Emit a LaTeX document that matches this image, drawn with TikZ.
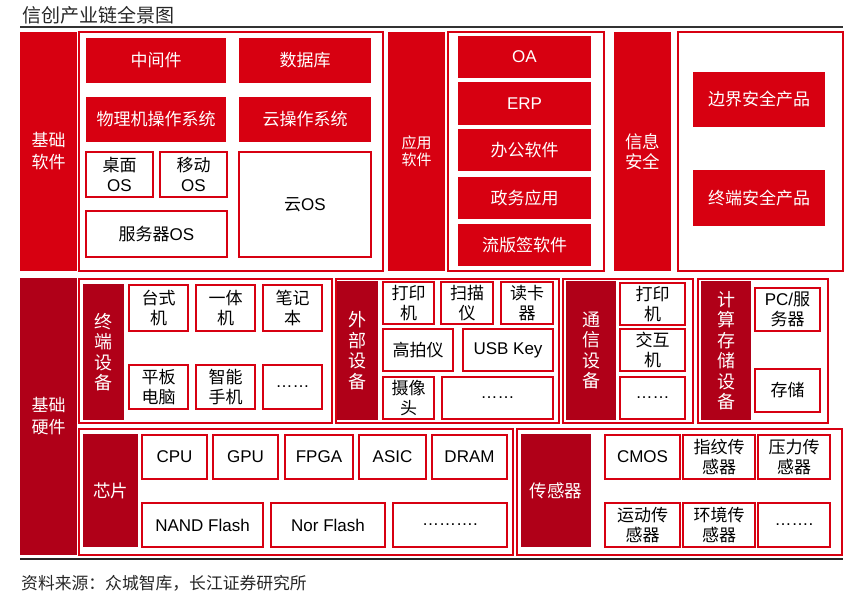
\documentclass[tikz,border=0pt]{standalone}
\usepackage{fontspec}
\setmainfont{Noto Sans CJK SC}
\newfontfamily\arialfont{Liberation Sans}
\newcommand{\ltn}[1]{{\arialfont #1}}
\definecolor{swred}{RGB}{215,0,17}
\definecolor{hwred}{RGB}{176,0,24}
\tikzset{
  swlabel/.style={fill=swred},
  hwlabel/.style={fill=hwred},
  redcell/.style={fill=swred},
  whitecell/.style={draw=swred, line width=1.6pt, fill=white},
  group/.style={draw=swred, line width=1.4pt},
  wtext/.style={text=white, align=center, inner sep=0pt, font=\fontsize{17}{20}\selectfont},
  ktext/.style={text=black, align=center, inner sep=0pt, font=\fontsize{17}{20}\selectfont},
  vtext/.style={wtext, font=\fontsize{18}{20.5}\selectfont},
}
\begin{document}
\begin{tikzpicture}[x=1pt,y=-1pt]
    \useasboundingbox (0,0) rectangle (867,599);

    % title, rules and source
    \node[anchor=west, inner sep=0pt, font=\fontsize{19}{22}\selectfont, text=black!85] (title) at (22,15) {信创产业链全景图};
    \draw[line width=2pt, black!80] (20,27) -- (843,27);
    \draw[line width=2pt, black!85] (20,559) -- (843,559);
    \node[anchor=west, inner sep=0pt, font=\fontsize{16.8}{19}\selectfont, text=black!85] (source) at (21,583) {资料来源：众城智库，长江证券研究所};

    % basic software
    \fill[swlabel] (20,32) rectangle (77,271) node[midway, wtext, font=\fontsize{17}{22}\selectfont] (jcrj) {基础\\软件};
    \draw[group] (79,32) rectangle (383,271);
    \fill[redcell] (86,38) rectangle (226,83) node[midway, wtext] (zjj) {中间件};
    \fill[redcell] (239,38) rectangle (371,83) node[midway, wtext] (sjk) {数据库};
    \fill[redcell] (86,97) rectangle (226,142) node[midway, wtext] (wljos) {物理机操作系统};
    \fill[redcell] (239,97) rectangle (371,142) node[midway, wtext] (yczxt) {云操作系统};
    \draw[whitecell] (86,152) rectangle (153,197) node[midway, ktext] (zmos) {桌面\\\ltn{OS}};
    \draw[whitecell] (160,152) rectangle (227,197) node[midway, ktext] (ydos) {移动\\\ltn{OS}};
    \draw[whitecell] (86,211) rectangle (227,257) node[midway, ktext] (fwqos) {服务器\ltn{OS}};
    \draw[whitecell] (239,152) rectangle (371,257) node[midway, ktext] (yos) {云\ltn{OS}};

    % application software
    \fill[swlabel] (388,32) rectangle (445,271) node[midway, wtext, font=\fontsize{15}{17}\selectfont] (yyrj) {应用\\软件};
    \draw[group] (448,32) rectangle (604,271);
    \fill[redcell] (458,36) rectangle (591,78) node[midway, wtext] (oa) {\ltn{OA}};
    \fill[redcell] (458,82) rectangle (591,125) node[midway, wtext] (erp) {\ltn{ERP}};
    \fill[redcell] (458,129) rectangle (591,171) node[midway, wtext] (bgrj) {办公软件};
    \fill[redcell] (458,177) rectangle (591,219) node[midway, wtext] (zwyy) {政务应用};
    \fill[redcell] (458,224) rectangle (591,266) node[midway, wtext] (lbqrj) {流版签软件};

    % information security
    \fill[swlabel] (614,32) rectangle (671,271) node[midway, wtext, font=\fontsize{17.5}{20}\selectfont] (xxaq) {信息\\安全};
    \draw[group] (678,32) rectangle (843,271);
    \fill[redcell] (693,72) rectangle (825,127) node[midway, wtext] (bjaq) {边界安全产品};
    \fill[redcell] (693,170) rectangle (825,226) node[midway, wtext] (zdaq) {终端安全产品};

    % basic hardware
    \fill[hwlabel] (20,278) rectangle (77,555) node[midway, wtext, font=\fontsize{17}{22}\selectfont] (jcyj) {基础\\硬件};

    % terminal devices
    \draw[group] (79,279) rectangle (332,423);
    \fill[hwlabel] (83,284) rectangle (124,420) node[midway, vtext] (zdsb) {终\\端\\设\\备};
    \draw[whitecell] (129,285) rectangle (188,331) node[midway, ktext] (tsj) {台式\\机};
    \draw[whitecell] (196,285) rectangle (255,331) node[midway, ktext] (ytj) {一体\\机};
    \draw[whitecell] (263,285) rectangle (322,331) node[midway, ktext] (bjb) {笔记\\本};
    \draw[whitecell] (129,365) rectangle (188,409) node[midway, ktext] (pbdn) {平板\\电脑};
    \draw[whitecell] (196,365) rectangle (255,409) node[midway, ktext] (znsj) {智能\\手机};
    \draw[whitecell] (263,365) rectangle (322,409) node[midway, ktext] (zdmore) {\ltn{……}};

    % peripherals
    \draw[group] (336,279) rectangle (559,423);
    \fill[hwlabel] (337,281) rectangle (378,420) node[midway, vtext] (wbsb) {外\\部\\设\\备};
    \draw[whitecell] (383,282) rectangle (434,324) node[midway, ktext] (dyj) {打印\\机};
    \draw[whitecell] (441,282) rectangle (493,324) node[midway, ktext] (smy) {扫描\\仪};
    \draw[whitecell] (501,282) rectangle (553,324) node[midway, ktext] (dkq) {读卡\\器};
    \draw[whitecell] (383,329) rectangle (453,371) node[midway, ktext] (gpy) {高拍仪};
    \draw[whitecell] (463,329) rectangle (553,371) node[midway, ktext] (usbkey) {\ltn{USB Key}};
    \draw[whitecell] (383,377) rectangle (434,419) node[midway, ktext] (sxt) {摄像\\头};
    \draw[whitecell] (442,377) rectangle (553,419) node[midway, ktext] (wbmore) {\ltn{……}};

    % communication devices
    \draw[group] (563,279) rectangle (693,423);
    \fill[hwlabel] (566,281) rectangle (616,420) node[midway, vtext] (txsb) {通\\信\\设\\备};
    \draw[whitecell] (620,283) rectangle (685,325) node[midway, ktext] (txdyj) {打印\\机};
    \draw[whitecell] (620,329) rectangle (685,371) node[midway, ktext] (jhj) {交互\\机};
    \draw[whitecell] (620,377) rectangle (685,419) node[midway, ktext] (txmore) {\ltn{……}};

    % computing and storage devices
    \draw[group] (698,279) rectangle (828,423);
    \fill[hwlabel] (701,281) rectangle (751,420) node[midway, vtext] (jsccsb) {计\\算\\存\\储\\设\\备};
    \draw[whitecell] (755,288) rectangle (820,331) node[midway, ktext] (pcfwq) {\ltn{PC/}服\\务器};
    \draw[whitecell] (755,369) rectangle (820,412) node[midway, ktext] (cc) {存储};

    % chips
    \draw[group] (79,429) rectangle (513,555);
    \fill[hwlabel] (83,434) rectangle (138,547) node[midway, wtext, font=\fontsize{17.5}{20}\selectfont] (xp) {芯片};
    \draw[whitecell] (142,435) rectangle (207,479) node[midway, ktext] (cpu) {\ltn{CPU}};
    \draw[whitecell] (213,435) rectangle (278,479) node[midway, ktext] (gpu) {\ltn{GPU}};
    \draw[whitecell] (285,435) rectangle (353,479) node[midway, ktext] (fpga) {\ltn{FPGA}};
    \draw[whitecell] (359,435) rectangle (426,479) node[midway, ktext] (asic) {\ltn{ASIC}};
    \draw[whitecell] (432,435) rectangle (507,479) node[midway, ktext] (dram) {\ltn{DRAM}};
    \draw[whitecell] (142,503) rectangle (263,547) node[midway, ktext] (nand) {\ltn{NAND Flash}};
    \draw[whitecell] (271,503) rectangle (385,547) node[midway, ktext] (nor) {\ltn{Nor Flash}};
    \draw[whitecell] (393,503) rectangle (507,547) node[midway, ktext] (xpmore) {\ltn{……….}};

    % sensors
    \draw[group] (517,429) rectangle (842,555);
    \fill[hwlabel] (521,434) rectangle (591,547) node[midway, wtext, font=\fontsize{17.5}{20}\selectfont] (cgq) {传感器};
    \draw[whitecell] (605,435) rectangle (680,479) node[midway, ktext] (cmos) {\ltn{CMOS}};
    \draw[whitecell] (683,435) rectangle (755,479) node[midway, ktext] (zwcgq) {指纹传\\感器};
    \draw[whitecell] (758,435) rectangle (830,479) node[midway, ktext] (ylcgq) {压力传\\感器};
    \draw[whitecell] (605,503) rectangle (680,547) node[midway, ktext] (ydcgq) {运动传\\感器};
    \draw[whitecell] (683,503) rectangle (755,547) node[midway, ktext] (hjcgq) {环境传\\感器};
    \draw[whitecell] (758,503) rectangle (830,547) node[midway, ktext] (cgqmore) {\ltn{…….}};
\end{tikzpicture}
\end{document}
